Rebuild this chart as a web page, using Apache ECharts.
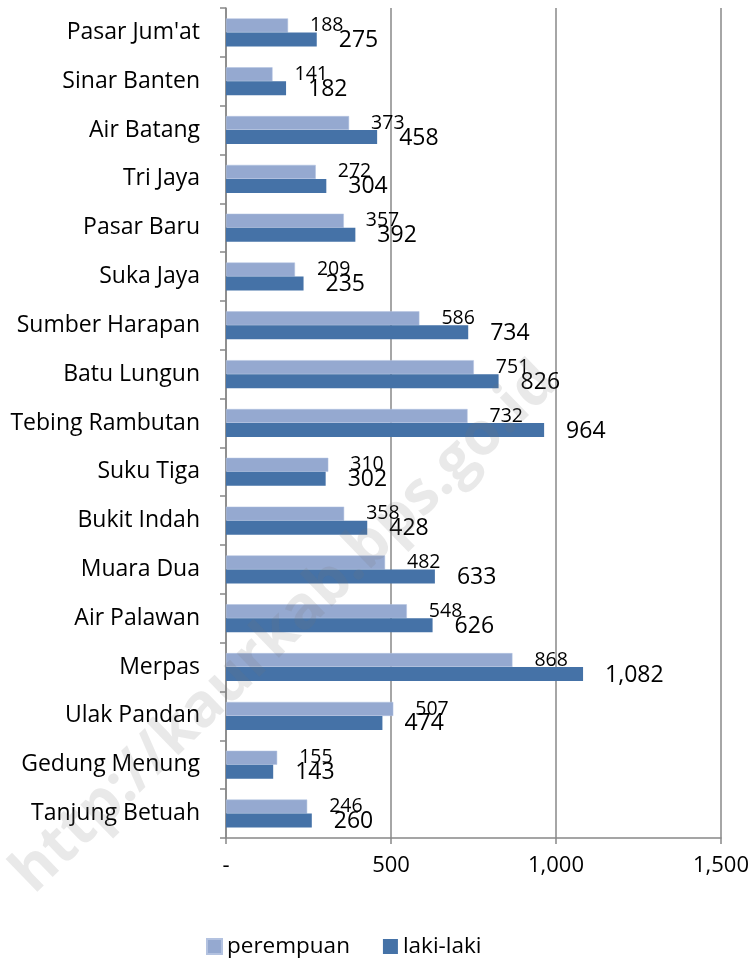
<!DOCTYPE html>
<html>
<head>
<meta charset="utf-8">
<script src="https://cdn.jsdelivr.net/npm/echarts@6/dist/echarts.min.js"></script>
<style>
  html, body { margin: 0; padding: 0; background: #fff; }
  #chart { width: 756px; height: 959px; }
</style>
</head>
<body>
<div id="chart"></div>
<script>
// kategori (urutan dari atas ke bawah)
const categories = [
  "Pasar Jum'at", 'Sinar Banten', 'Air Batang', 'Tri Jaya', 'Pasar Baru',
  'Suka Jaya', 'Sumber Harapan', 'Batu Lungun', 'Tebing Rambutan', 'Suku Tiga',
  'Bukit Indah', 'Muara Dua', 'Air Palawan', 'Merpas', 'Ulak Pandan',
  'Gedung Menung', 'Tanjung Betuah'
]
const perempuan = [188, 141, 373, 272, 357, 209, 586, 751, 732, 310, 358, 482, 548, 868, 507, 155, 246]
const lakiLaki = [275, 182, 458, 304, 392, 235, 734, 826, 964, 302, 428, 633, 626, 1082, 474, 143, 260]
const xTicks = [0, 500, 1000, 1500]

const font = '"Open Sans", "Noto Sans", sans-serif'
const fmt = v => v === 0 ? '-' : v.toLocaleString('en-US')

let myChart = echarts.init(document.getElementById('chart'))
const option = {
  animation: false,
  textStyle: { fontFamily: font, color: '#000' },
  grid: { left: 226, right: 35, top: 8, bottom: 121, containLabel: false },
  legend: {
    left: 201,
    top: 930,
    icon: 'rect',
    itemWidth: 15,
    itemHeight: 15,
    itemGap: 33,
    textStyle: { fontFamily: font, fontSize: 22.5, color: '#000' },
    data: ['perempuan', 'laki-laki']
  },
  xAxis: {
    type: 'value',
    min: xTicks[0],
    max: xTicks[xTicks.length - 1],
    interval: 500,
    axisLine: { show: true, lineStyle: { color: '#888', width: 1.5 } },
    axisTick: { show: true, length: 6, lineStyle: { color: '#888', width: 1.5 } },
    splitLine: { show: true, lineStyle: { color: '#888', width: 1.5 } },
    axisLabel: { margin: 17, fontSize: 22, fontFamily: font, color: '#000', formatter: fmt }
  },
  yAxis: {
    type: 'category',
    data: categories,
    inverse: true,
    axisLine: { show: true, lineStyle: { color: '#888', width: 1.5 } },
    axisTick: { show: true, length: 6, lineStyle: { color: '#888', width: 1.5 } },
    axisLabel: { margin: 26, fontSize: 23, fontFamily: font, color: '#000' }
  },
  series: [
    {
      name: 'perempuan',
      type: 'bar',
      data: perempuan,
      barWidth: 14,
      barGap: '0%',
      itemStyle: { color: '#95a9d0', borderColor: '#b3c2e0', borderWidth: 0.5 },
      label: {
        show: true, position: 'right', distance: 22,
        fontSize: 19.5, fontFamily: font, color: '#000', formatter: p => fmt(p.value)
      }
    },
    {
      name: 'laki-laki',
      type: 'bar',
      data: lakiLaki,
      barWidth: 14,
      barGap: '0%',
      itemStyle: { color: '#4572a7' },
      label: {
        show: true, position: 'right', distance: 22, offset: [0, 1],
        fontSize: 23, fontFamily: font, color: '#000', formatter: p => fmt(p.value)
      }
    }
  ],
  graphic: [
    {
      type: 'text',
      x: 285, y: 628,
      rotation: 0.77,
      z: 100,
      silent: true,
      style: {
        text: 'http://kaurkab.bps.go.id',
        fontFamily: font,
        fontWeight: 'bold',
        fontSize: 60,
        fill: 'rgba(120,120,120,0.16)',
        align: 'center',
        verticalAlign: 'middle'
      }
    }
  ]
}
myChart.setOption(option)
</script>
</body>
</html>
